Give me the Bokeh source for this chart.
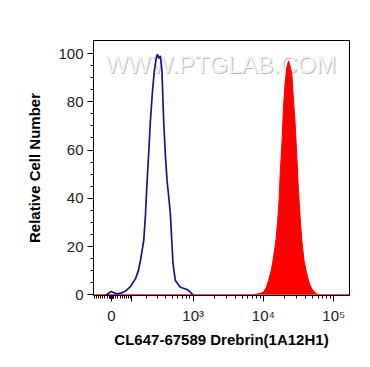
import numpy as np
from bokeh.plotting import figure
from bokeh.models import FixedTicker, Range1d, Label
from bokeh.embed import file_html
from bokeh.resources import INLINE

# x positions are in the axis' display units (decades on a logicle-like scale)
blue_x = [1.756, 1.780, 1.837, 1.877, 1.922, 1.969, 2.016, 2.068, 2.111, 2.182,
          2.224, 2.253, 2.300, 2.324, 2.348, 2.373, 2.394, 2.423, 2.451, 2.480,
          2.494, 2.515, 2.536, 2.558, 2.583, 2.607, 2.631, 2.657, 2.678, 2.699,
          2.716, 2.749, 2.820, 2.915, 2.962, 3.000]
blue_y = [0.0, 0.2, 1.4, 0.8, 0.4, 0.7, 1.1, 2.2, 3.4, 6.6,
          10.0, 14.2, 22.5, 33.0, 47.3, 60.0, 72.0, 84.0, 93.0, 98.5,
          99.7, 98.0, 99.0, 93.0, 72.0, 58.0, 47.3, 40.0, 33.5, 22.0,
          12.8, 5.9, 3.1, 2.2, 1.1, 0.0]

red_x = [1.586, 3.855, 3.908, 3.955, 4.002, 4.040, 4.073, 4.111, 4.144, 4.175,
         4.200, 4.224, 4.238, 4.267, 4.285, 4.309, 4.330, 4.356, 4.373, 4.404,
         4.429, 4.451, 4.475, 4.498, 4.522, 4.546, 4.578, 4.616, 4.649, 4.687,
         4.735, 4.782, 5.223]
red_y = [0.0, 0.0, 0.3, 0.6, 1.1, 3.0, 5.9, 10.0, 15.6, 22.0,
         29.4, 40.0, 50.0, 65.0, 77.7, 88.0, 94.0, 97.0, 95.5, 91.5,
         80.0, 70.8, 57.0, 43.2, 32.0, 22.5, 14.0, 8.7, 5.0, 2.5,
         0.8, 0.0, 0.0]

x_tick_values = [0, 100, 1000, 10000, 100000]
x_tick_labels = ["0", "", "10³", "10⁴", "10⁵"]
y_tick_values = [0, 20, 40, 60, 80, 100]

C = 69.3


def disp(v):
    v = np.asarray(v, dtype=float)
    return np.arcsinh(v / (2 * C)) / np.log(10) + np.log10(C)


minor_vals = (list(range(-90, 0, 10)) + list(range(-9, 0)) + list(range(1, 10)) +
              list(range(10, 100, 10)) + list(range(200, 1000, 100)) +
              list(range(2000, 10000, 1000)) + list(range(20000, 100000, 10000)))

p = figure(width=362, height=359, output_backend="svg", toolbar_location=None,
           x_range=Range1d(1.586, 5.223), y_range=Range1d(-0.3, 105.4),
           min_border_left=93, min_border_right=13, min_border_top=40,
           min_border_bottom=64)
p.grid.visible = False
p.outline_line_color = "black"
p.outline_line_width = 1
p.background_fill_color = "white"
p.border_fill_color = "white"

for dx, dy, col in [(1, -1, "#bdbdbd"), (0, 0, "#f4f4f4")]:
    p.add_layout(Label(x=1.756, y=95.6, text="WWW.PTGLAB.COM", x_offset=dx, y_offset=dy,
                       text_font="Liberation Sans", text_font_size="24px",
                       text_color=col, text_baseline="alphabetic", text_align="left",
                       level="underlay"))

p.varea(x=red_x, y1=0, y2=red_y, fill_color="#ff0000")
p.line(red_x, red_y, line_color="#ff0000", line_width=1)
p.line(blue_x, blue_y, line_color="#17178a", line_width=1.7)

xt = [float(t) for t in disp(x_tick_values)]
p.xaxis.ticker = FixedTicker(ticks=xt, minor_ticks=[float(t) for t in disp(minor_vals)])
p.xaxis.major_label_overrides = {t: lab for t, lab in zip(xt, x_tick_labels)}
p.yaxis.ticker = FixedTicker(ticks=y_tick_values, minor_ticks=list(range(0, 105, 5)))

for ax in (p.xaxis[0], p.yaxis[0]):
    ax.axis_line_color = "black"
    ax.major_tick_line_color = "black"
    ax.minor_tick_line_color = "black"
    ax.major_tick_in = 0
    ax.minor_tick_in = 0
    ax.major_tick_out = 6
    ax.minor_tick_out = 3
    ax.major_label_text_font = "Liberation Sans"
    ax.major_label_text_font_size = "15px"
    ax.major_label_text_color = "#222222"
    ax.axis_label_text_font = "Liberation Sans"
    ax.axis_label_text_font_size = "15px"
    ax.axis_label_text_font_style = "bold"
    ax.axis_label_text_color = "black"

p.xaxis.axis_label = "CL647-67589 Drebrin(1A12H1)"
p.yaxis.axis_label = "Relative Cell Number"
p.xaxis.major_label_standoff = 5
p.xaxis.axis_label_standoff = 4
p.yaxis.major_label_standoff = 4
p.yaxis.axis_label_standoff = 12

open("out.html", "w").write(file_html(p, INLINE))
